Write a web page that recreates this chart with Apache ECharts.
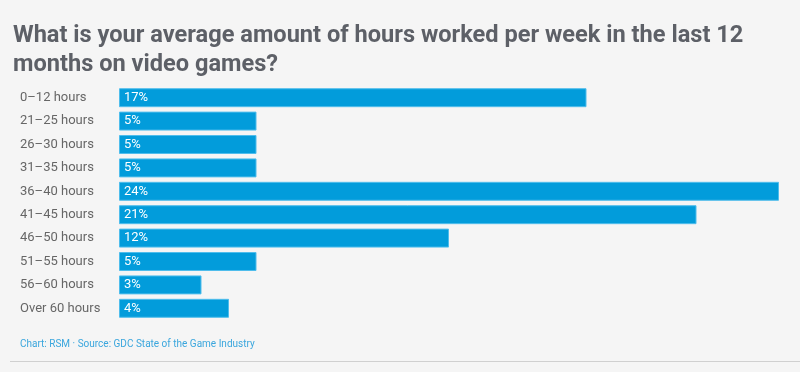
<!DOCTYPE html>
<html><head><meta charset="utf-8">
<script src="https://cdn.jsdelivr.net/npm/echarts@6/dist/echarts.min.js"></script>
<style>html,body{margin:0;padding:0;background:#f5f5f5;}#c{width:800px;height:372px;}</style>
</head><body><div id="c"></div>
<script>
const categories = ["0–12 hours","21–25 hours","26–30 hours","31–35 hours","36–40 hours","41–45 hours","46–50 hours","51–55 hours","56–60 hours","Over 60 hours"];
const values = [17,5,5,5,24,21,12,5,3,4];
const titleText = "What is your average amount of hours worked per week in the last 12\nmonths on video games?";
const footerText = "Chart: RSM · Source: GDC State of the Game Industry";

const chart = echarts.init(document.getElementById('c'), null, {renderer:'canvas'});
chart.setOption({
  backgroundColor:'#f5f5f5',
  animation:false,
  title:{
    text:titleText, left:8, top:17,
    textStyle:{fontFamily:'Roboto, sans-serif', fontWeight:'bold', fontSize:23.6, color:'#5d6067', lineHeight:29}
  },
  graphic:[
    {type:'text', left:20, top:339, style:{text:footerText, fill:'#3aa6dd', font:'10px Roboto, sans-serif'}},
    {type:'line', shape:{x1:10,y1:361.5,x2:800,y2:361.5}, style:{stroke:'#d0d0d0', lineWidth:1}}
  ],
  grid:{left:119, top:86, width:660, height:234, containLabel:false},
  xAxis:{type:'value', min:0, max:24, show:false},
  yAxis:{type:'category', data:categories, inverse:true,
    axisLine:{show:false}, axisTick:{show:false},
    axisLabel:{align:'left', margin:99, color:'#666666', fontSize:13, fontFamily:'Roboto, sans-serif'}},
  series:[{
    type:'bar', data:values, barCategoryGap:'19%',
    itemStyle:{color:'#029cdb', borderColor:'#4fbdec', borderWidth:1},
    label:{show:true, position:'insideLeft', distance:5, formatter:'{c}%', color:'#ffffff', fontSize:13, fontFamily:'Roboto, sans-serif'}
  }]
});
</script></body></html>
